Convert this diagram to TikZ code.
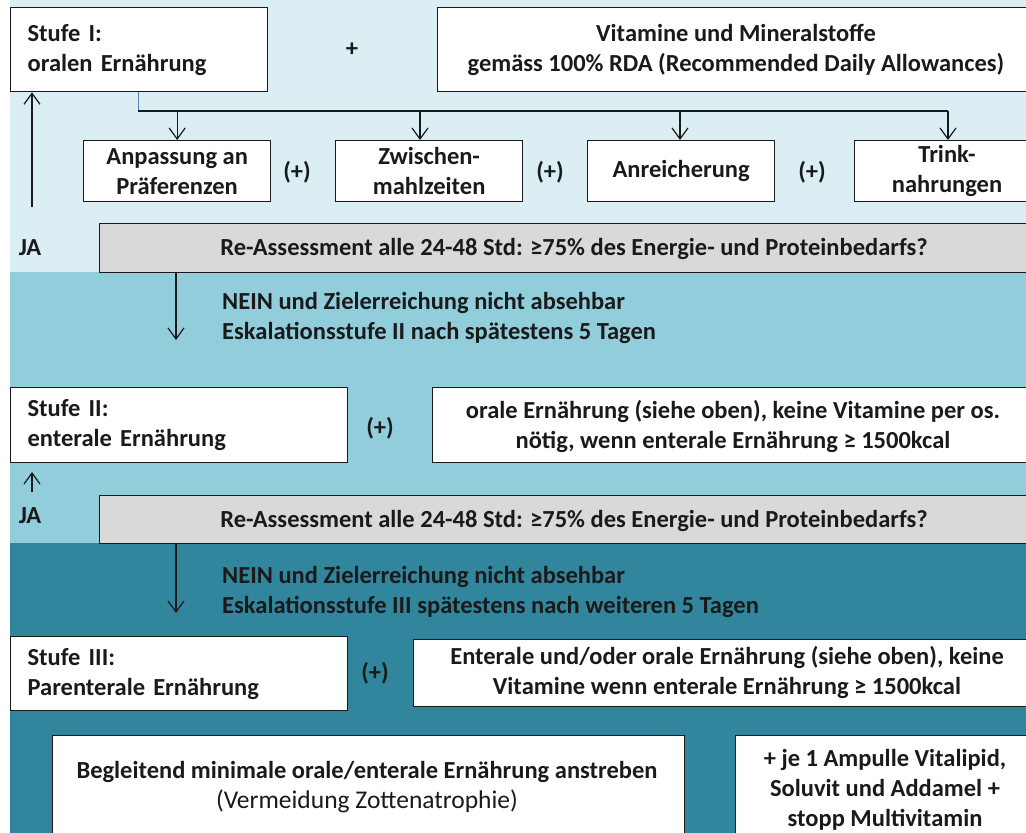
\documentclass[tikz,border=0pt]{standalone}
\usepackage{fontspec}
\setmainfont{Carlito}
\usetikzlibrary{arrows.meta}
\definecolor{bgA}{HTML}{DAEEF3}
\definecolor{bgB}{HTML}{92CDDC}
\definecolor{bgC}{HTML}{31859C}
\definecolor{grayfill}{HTML}{D9D9D9}
\definecolor{linkblue}{HTML}{4F81BD}
\definecolor{ink}{HTML}{1A1A1A}
\begin{document}
\begin{tikzpicture}[x=1pt,y=-1pt,
  box/.style={draw=ink, line width=1.3pt, fill=white, inner sep=0pt},
  graybox/.style={box, fill=grayfill},
  txt/.style={font=\fontsize{24.5}{30}\selectfont\bfseries, text=ink, inner sep=0pt, align=center},
  conn/.style={line width=1.2pt, draw=ink},
  arr/.style={conn, -{Straight Barb[length=11pt,width=16pt]}},
]
\useasboundingbox (0,0) rectangle (1026,833);
\clip (0,0) rectangle (1026,833);
% background bands
\fill[bgA] (10,0) rectangle (1030,272);
\fill[bgB] (10,272) rectangle (1030,543);
\fill[bgC] (10,543) rectangle (1030,840);

% Stufe I
\node[box, txt, anchor=north west, minimum width=257pt, minimum height=84pt, text width=223pt, align=left] (s1) at (10,7) {Stufe I:\\oralen Ernährung};
\node[txt] (plus1) at (352,50) {+};
\node[box, anchor=north west, minimum width=620pt, minimum height=84pt] (vit) at (437,7) {};
\node[txt] (vitt) at (736,50) {Vitamine und Mineralstoffe\\gemäss 100\% RDA (Recommended Daily Allowances)};

% small boxes
\node[box, txt, anchor=north west, minimum width=187pt, minimum height=61pt] (anp) at (83,140) {Anpassung an\\Präferenzen};
\node[txt] (p1) at (297,172) {(+)};
\node[box, txt, anchor=north west, minimum width=187pt, minimum height=61pt] (zw) at (335,140) {Zwischen-\\mahlzeiten};
\node[txt] (p2) at (550,172) {(+)};
\node[box, txt, anchor=north west, minimum width=187pt, minimum height=61pt] (anr) at (587,140) {Anreicherung};
\node[txt] (p3) at (812,172) {(+)};
\node[box, anchor=north west, minimum width=220pt, minimum height=61pt] (tr) at (854,140) {};
\node[txt] (trt) at (947,171) {Trink-\\nahrungen};

% branch connectors
\coordinate (br) at (138,111);
\coordinate (brE) at (948,111);
\coordinate (b2) at (420,111);
\coordinate (b3) at (680,111);
\draw[linkblue, line width=1pt] (s1.south -| br) -- (br);
\draw[conn] (br) -- (brE);
\draw[arr] (br -| anp.north) -- (anp.north);
\draw[arr] (b2) -- (b2 |- zw.north);
\draw[arr] (b3) -- (b3 |- anr.north);
\draw[arr] (brE) -- (brE |- tr.north);

% JA 1
\coordinate (ja1) at (32,207);
\draw[arr] (ja1) -- (s1.south -| ja1);
\node[txt] (jat1) at (30,248) {JA};

% re-assessment 1
\node[graybox, anchor=north west, minimum width=940pt, minimum height=49pt] (g1) at (99,223) {};
\node[txt] (g1t) at (574,249) {Re-Assessment alle 24-48 Std: ≥75\% des Energie- und Proteinbedarfs?};

\coordinate (d1) at (176,340);
\draw[arr] (g1.south -| d1) -- (d1);
\node[txt, align=left, anchor=west] (n1) at (222,318) {NEIN und Zielerreichung nicht absehbar\\Eskalationsstufe II nach spätestens 5 Tagen};

% Stufe II
\node[box, txt, anchor=north west, minimum width=337pt, minimum height=75pt, text width=303pt, align=left] (s2) at (10,387) {Stufe II:\\enterale Ernährung};
\node[txt] (p4) at (380,428) {(+)};
\node[box, anchor=north west, minimum width=620pt, minimum height=75pt] (or) at (432,387) {};
\node[txt] (ort) at (733,426) {orale Ernährung (siehe oben), keine Vitamine per os.\\nötig, wenn enterale Ernährung ≥ 1500kcal};

% JA 2
\coordinate (ja2a) at (32,492);
\coordinate (ja2b) at (32,472);
\draw[arr] (ja2a) -- (ja2b);
\node[txt] (jat2) at (30,516) {JA};

% re-assessment 2
\node[graybox, anchor=north west, minimum width=940pt, minimum height=48pt] (g2) at (99,495) {};
\node[txt] (g2t) at (574,521) {Re-Assessment alle 24-48 Std: ≥75\% des Energie- und Proteinbedarfs?};

\coordinate (d2) at (176,613);
\draw[arr] (g2.south -| d2) -- (d2);
\node[txt, align=left, anchor=west] (n2) at (222,592) {NEIN und Zielerreichung nicht absehbar\\Eskalationsstufe III spätestens nach weiteren 5 Tagen};

% Stufe III
\node[box, txt, anchor=north west, minimum width=337pt, minimum height=74pt, text width=303pt, align=left] (s3) at (10,636) {Stufe III:\\Parenterale Ernährung};
\node[txt] (p5) at (375,673) {(+)};
\node[box, anchor=north west, minimum width=620pt, minimum height=67pt] (en) at (413,639) {};
\node[txt] (ent) at (727,672) {Enterale und/oder orale Ernährung (siehe oben), keine\\Vitamine wenn enterale Ernährung ≥ 1500kcal};

% bottom boxes
\node[box, anchor=north west, minimum width=632pt, minimum height=120pt] (beg) at (52,735) {};
\node[txt] (begt) at (367,787) {Begleitend minimale orale/enterale Ernährung anstreben\\{\mdseries\fontsize{25.5}{31}\selectfont (Vermeidung Zottenatrophie)}};
\node[box, anchor=north west, minimum width=300pt, minimum height=120pt] (amp) at (735,735) {};
\node[txt] (ampt) at (885,790) {+ je 1 Ampulle Vitalipid,\\Soluvit und Addamel +\\stopp Multivitamin};
\end{tikzpicture}
\end{document}
